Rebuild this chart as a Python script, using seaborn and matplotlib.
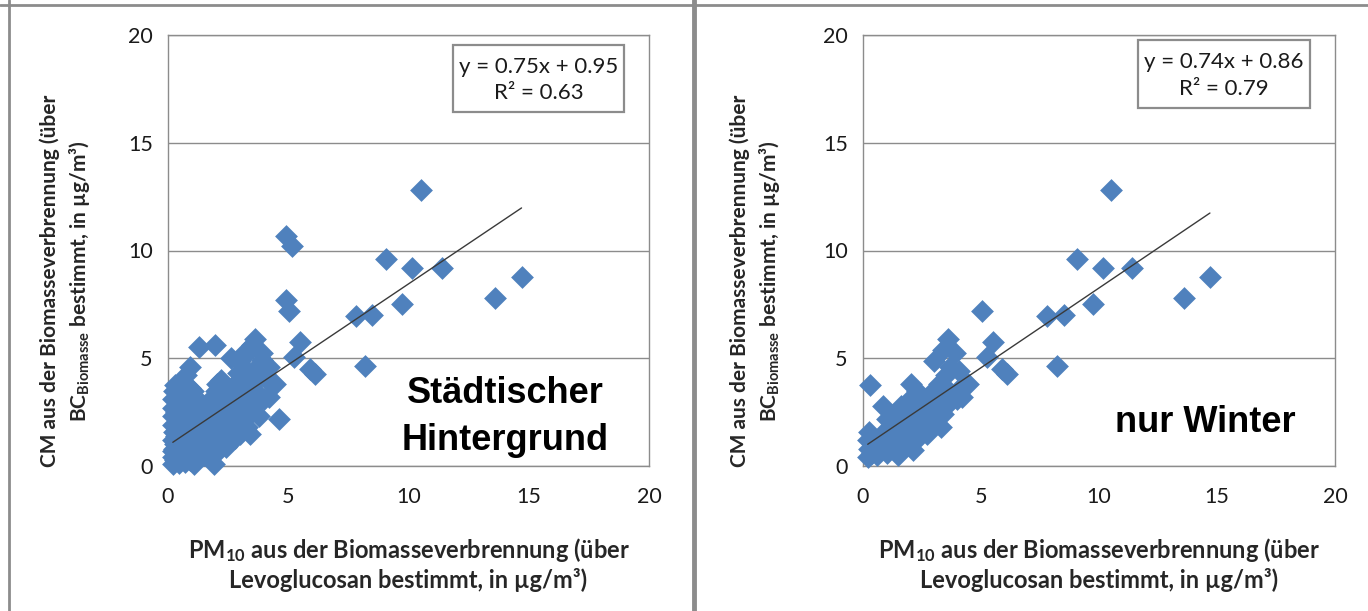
import numpy as np
import pandas as pd
import matplotlib
matplotlib.use("Agg")
import matplotlib.pyplot as plt
import seaborn as sns
from matplotlib.patches import Rectangle
from matplotlib.lines import Line2D

sns.set_style("white")
plt.rcParams["font.family"] = ["Lato", "DejaVu Sans"]

# Winter samples: PM10 from biomass burning (levoglucosan) vs. CM (BC_Biomasse)
winter_x = [10.5, 9.05, 10.15, 11.4, 14.7, 13.6, 9.75, 7.8, 8.5, 5.05, 5.5, 5.25, 5.9, 6.1, 8.2, 4.45,
            3.6, 3.9, 3.0, 3.4, 4.05, 3.7, 4.3, 4.2, 4.0, 3.8, 3.6, 3.5, 3.5, 3.3, 3.3, 3.4, 3.2, 3.1,
            3.0, 2.9, 2.8, 2.7, 2.7, 2.6, 2.5, 2.5, 2.4, 2.3, 2.3, 2.2, 2.1, 2.1, 2.05, 2.0, 1.9, 1.9,
            1.8, 1.7, 1.7, 1.6, 1.5, 1.5, 1.4, 1.3, 1.25, 1.2, 1.1, 1.0, 1.0, 0.85, 0.9, 0.8, 0.7,
            0.6, 0.5, 0.4, 0.3, 0.25, 0.2, 0.25, 0.2]
winter_y = [12.8, 9.6, 9.2, 9.2, 8.75, 7.8, 7.5, 6.95, 7.0, 7.2, 5.75, 5.05, 4.5, 4.25, 4.65, 3.8,
            5.9, 5.25, 4.85, 5.4, 4.4, 4.6, 3.8, 3.2, 3.1, 3.3, 2.9, 3.6, 4.2, 3.2, 1.8, 2.4, 3.8, 2.8,
            2.1, 3.4, 2.4, 3.0, 1.5, 1.9, 3.2, 2.5, 1.4, 3.5, 2.0, 2.8, 1.6, 0.75, 3.8, 2.3, 3.0, 1.0,
            1.8, 2.5, 1.2, 2.8, 2.0, 0.5, 1.4, 2.4, 0.8, 1.8, 1.2, 2.2, 0.6, 2.8, 1.6, 0.9, 1.3,
            0.5, 1.0, 0.6, 3.75, 1.6, 1.2, 0.8, 0.4]

# Remaining seasons (urban background only)
other_x = [0.2, 0.2, 0.2, 0.2, 0.2, 0.2, 0.25, 0.3, 0.3, 0.35, 0.35, 0.35, 0.35, 0.4, 0.45, 0.5,
           0.5, 0.5, 0.5, 0.55, 0.6, 0.6, 0.7, 0.7, 0.7, 0.7, 0.75, 0.8, 0.8, 0.9, 0.9, 0.9, 0.9,
           1.0, 1.0, 1.0, 1.1, 1.05, 1.2, 1.2, 1.3, 1.3, 1.3, 1.4, 1.4, 1.5, 1.6, 1.6, 1.7, 1.8,
           1.8, 1.9, 1.95, 2.0, 2.0, 2.1, 2.2, 2.2, 2.3, 2.4, 2.4, 2.5, 2.6, 2.6, 2.7, 2.8, 2.9,
           2.9, 3.0, 3.1, 3.2, 3.3, 3.3, 3.4, 3.5, 3.6, 3.8, 3.9, 4.2, 4.6, 4.9, 5.15, 4.9]
other_y = [0.1, 0.7, 1.9, 2.3, 2.7, 3.1, 3.5, 0.3, 1.0, 1.4, 2.0, 2.5, 3.0, 3.3, 0.15, 0.5,
           1.8, 2.3, 2.8, 3.85, 1.3, 3.3, 0.2, 0.8, 2.0, 2.6, 4.2, 1.5, 3.0, 4.6, 0.3, 2.3, 3.6,
           1.0, 1.8, 2.9, 0.1, 3.5, 2.2, 0.7, 1.5, 2.8, 5.5, 2.9, 0.9, 2.4, 1.9, 0.6, 3.0, 2.2,
           1.1, 0.1, 5.6, 3.5, 1.5, 2.7, 4.0, 1.1, 2.3, 3.3, 0.9, 1.7, 2.8, 5.0, 3.7, 1.3, 4.3,
           2.0, 1.5, 3.4, 5.3, 2.6, 4.4, 1.5, 5.6, 3.9, 2.3, 4.9, 4.6, 2.2, 10.65, 10.2, 7.7]

# Linear trend lines as stated in the equation boxes
slopes = [0.75, 0.74]
intercepts = [0.95, 0.86]
r_squared = [0.63, 0.79]
panel_titles = ["Städtischer\nHintergrund", "nur Winter"]
axis_ticks = [0, 5, 10, 15, 20]

BLUE = "#4F81BD"
GRID = "#8c8c8c"
W, H = 1368, 611

fig = plt.figure(figsize=(W / 100, H / 100), dpi=100)
fig.patch.set_facecolor("white")


def fx(px):
    return px / W


def fy(py):
    return 1 - py / H


XLABEL = "$\\mathregular{PM_{10}}$ aus der Biomasseverbrennung (über\nLevoglucosan bestimmt, in µg/m³)"
YLABEL = "CM aus der Biomasseverbrennung (über\n$\\mathregular{BC_{Biomasse}}$ bestimmt, in µg/m³)"


def panel(rect, xs, ys, slope, intercept, r2, title, title_xy, box, ylab_x):
    l, t, r, b = rect
    ax = fig.add_axes([fx(l), fy(b), (r - l) / W, (b - t) / H])
    df = pd.DataFrame({"x": xs, "y": ys})
    sns.scatterplot(data=df, x="x", y="y", marker="D", s=135, color=BLUE,
                    linewidth=0, ax=ax, zorder=3, clip_on=False, legend=False)
    xl = np.array([min(xs), max(xs)])
    ax.plot(xl, slope * xl + intercept, color="#3a3a3a", lw=1.0, zorder=4)

    ax.set_xlim(0, 20)
    ax.set_ylim(0, 20)
    ax.set_xticks(axis_ticks)
    ax.set_yticks(axis_ticks)
    ax.set_xlabel("")
    ax.set_ylabel("")
    ax.yaxis.grid(True, color=GRID, lw=1)
    ax.xaxis.grid(False)
    for sp in ax.spines.values():
        sp.set_visible(True)
        sp.set_color(GRID)
        sp.set_linewidth(1)
    ax.tick_params(axis="both", direction="out", length=5, width=1, color=GRID,
                   labelsize=15.5, labelcolor="#1a1a1a")
    ax.tick_params(axis="x", pad=10)
    ax.tick_params(axis="y", pad=6)

    cx = (l + r) / 2
    fig.text(fx(cx), fy(564), XLABEL, ha="center", va="center", fontsize=17,
             fontweight="bold", linespacing=1.2, multialignment="center")
    fig.text(fx(ylab_x), fy(281), YLABEL, ha="center", va="center", fontsize=15,
             fontweight="bold", rotation=90, linespacing=1.35, multialignment="center")

    bl, bt, br, bb = box
    fig.patches.append(Rectangle((fx(bl), fy(bb)), (br - bl) / W, (bb - bt) / H,
                                 transform=fig.transFigure, facecolor="white",
                                 edgecolor=GRID, lw=1.6, zorder=5))
    bcx = (bl + br) / 2
    fig.text(fx(bcx), fy(bt + (bb - bt) * 0.33), f"y = {slope:.2f}x + {intercept:.2f}",
             ha="center", va="center", fontsize=16, color="#1a1a1a", zorder=6)
    fig.text(fx(bcx), fy(bt + (bb - bt) * 0.72), f"R² = {r2:.2f}",
             ha="center", va="center", fontsize=16, color="#1a1a1a", zorder=6)

    fig.text(fx(title_xy[0]), fy(title_xy[1]), title, ha="center", va="center",
             fontsize=26, fontweight="bold", family="Liberation Sans",
             linespacing=1.45, zorder=6, color="black")
    return ax


all_x = winter_x + other_x
all_y = winter_y + other_y

panel((168, 35, 649, 466), all_x, all_y, slopes[0], intercepts[0], r_squared[0],
      panel_titles[0], (505, 417), (453, 45, 624, 112), 66)
panel((863, 35, 1335, 466), winter_x, winter_y, slopes[1], intercepts[1], r_squared[1],
      panel_titles[1], (1205, 423), (1138, 40, 1310, 108), 756)

# Frame lines around the chart panels
for (x0, y0, x1, y1, lw) in [(9, 0, 9, 611, 2.0), (0, 5, 1368, 5, 2.0), (694, 0, 694, 611, 3.5)]:
    fig.lines.append(Line2D([fx(x0), fx(x1)], [fy(y0), fy(y1)], transform=fig.transFigure,
                            color=GRID, lw=lw))

fig.savefig("out.png", dpi=100, facecolor="white")
